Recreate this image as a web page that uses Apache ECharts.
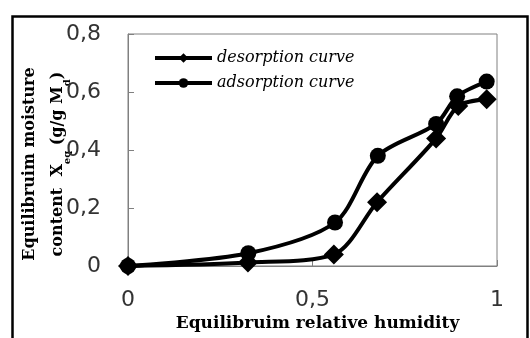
<!DOCTYPE html>
<html>
<head>
<meta charset="utf-8">
<script src="https://cdn.jsdelivr.net/npm/echarts@6/dist/echarts.min.js"></script>
<style>
html,body{margin:0;padding:0;background:#fff;}
#chart{width:530px;height:338px;}
</style>
</head>
<body>
<div id="chart"></div>
<script>
// Equilibrium relative humidity (x) and moisture content (y)
const desorptionX = [0, 0.325, 0.558, 0.675, 0.835, 0.895, 0.972];
const desorptionY = [0, 0.012, 0.040, 0.220, 0.440, 0.552, 0.575];
const adsorptionX = [0, 0.326, 0.561, 0.677, 0.835, 0.892, 0.972];
const adsorptionY = [0, 0.044, 0.150, 0.380, 0.490, 0.585, 0.636];
const seriesNames = ['desorption curve', 'adsorption curve'];
const xTitle = 'Equilibruim relative humidity';
const yTitleLine1 = 'Equilibruim moisture';

const pairs = (xs, ys) => xs.map((x, i) => [x, ys[i]]);
const comma = v => String(+v.toFixed(2)).replace('.', ',');

const chart = echarts.init(document.getElementById('chart'), null, {renderer: 'canvas'});
chart.setOption({
  animation: false,
  backgroundColor: '#fff',
  grid: {left: 128, right: 33, top: 34, bottom: 72, show: true,
         borderColor: '#808080', borderWidth: 1, containLabel: false},
  legend: {
    orient: 'vertical', left: 153, top: 49, padding: 0,
    itemWidth: 57, itemHeight: 12, itemGap: 7,
    data: seriesNames,
    lineStyle: {width: 4, color: '#000'},
    textStyle: {fontFamily: 'DejaVu Serif', fontStyle: 'italic', fontSize: 16,
                color: '#000', lineHeight: 18}
  },
  xAxis: {
    type: 'value', min: 0, max: 1, interval: 0.5,
    name: xTitle, nameLocation: 'middle', nameGap: 49, nameMoveOverlap: false,
    nameTextStyle: {fontFamily: 'DejaVu Serif', fontWeight: 'bold', fontSize: 17, color: '#000',
                    padding: [0, 0, 0, 10]},
    axisLine: {show: true, lineStyle: {color: '#808080', width: 1}},
    axisTick: {show: true, inside: true, length: 6, lineStyle: {color: '#808080'}},
    axisLabel: {margin: 23, fontFamily: 'DejaVu Sans', fontSize: 22, color: '#333', formatter: comma},
    splitLine: {show: false}
  },
  yAxis: {
    type: 'value', min: 0, max: 0.8, interval: 0.2,
    name: '{a|' + yTitleLine1 + '}\n{a|content  X}{s|eq}{a| (g/g M}{s|d}{a|)}',
    nameLocation: 'middle', nameRotate: 90, nameGap: 56, nameMoveOverlap: false,
    nameTextStyle: {
      padding: [0, 28, 0, 0],
      rich: {
        a: {fontFamily: 'DejaVu Serif', fontWeight: 'bold', fontSize: 16, color: '#000', lineHeight: 28},
        s: {fontFamily: 'DejaVu Serif', fontWeight: 'bold', fontSize: 10, color: '#000', lineHeight: 12, verticalAlign: 'bottom'}
      }
    },
    axisLine: {show: true, lineStyle: {color: '#808080', width: 1}},
    axisTick: {show: true, inside: true, length: 6, lineStyle: {color: '#808080'}},
    axisLabel: {margin: 27, fontFamily: 'DejaVu Sans', fontSize: 22, color: '#333', formatter: comma},
    splitLine: {show: false}
  },
  graphic: [{
    type: 'rect', silent: true, z: 100,
    shape: {x: 12.5, y: 16.5, width: 515, height: 400},
    style: {fill: 'none', stroke: '#000', lineWidth: 2.5}
  }],
  series: [
    {
      name: seriesNames[1], type: 'line', data: pairs(adsorptionX, adsorptionY),
      smooth: 0.3, clip: false, symbol: 'circle', symbolSize: 16,
      lineStyle: {color: '#000', width: 4}, itemStyle: {color: '#000'}
    },
    {
      name: seriesNames[0], type: 'line', data: pairs(desorptionX, desorptionY),
      smooth: 0.3, clip: false, symbol: 'diamond', symbolSize: 20,
      lineStyle: {color: '#000', width: 4}, itemStyle: {color: '#000'}
    }
  ]
});
</script>
</body>
</html>
